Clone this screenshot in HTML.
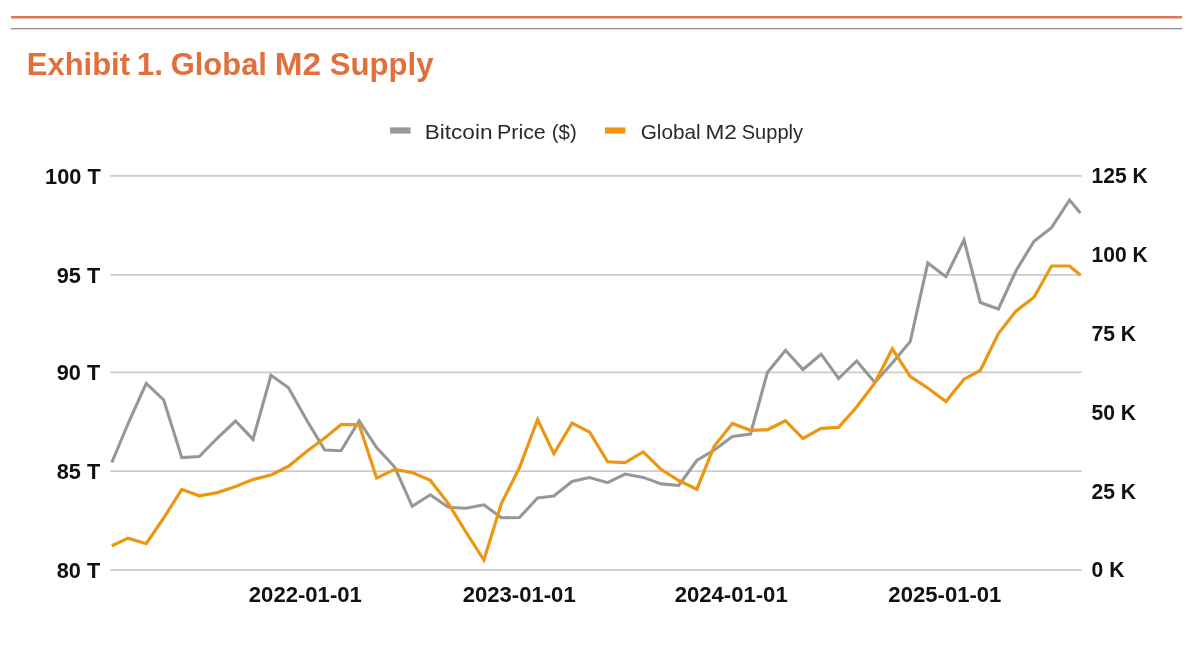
<!DOCTYPE html>
<html><head><meta charset="utf-8">
<style>
html,body{margin:0;padding:0;background:#ffffff;}
body{width:1200px;height:648px;overflow:hidden;position:relative;}
svg{position:absolute;left:0;top:0;will-change:transform;}
.ax{font-family:"Liberation Sans",sans-serif;font-weight:bold;font-size:20.5px;fill:#111111;}
.lg{font-family:"Liberation Sans",sans-serif;font-size:20.2px;fill:#2a2a2a;}
.tt{font-family:"Liberation Sans",sans-serif;font-weight:bold;font-size:31.5px;fill:#e0703c;}
</style></head>
<body>
<svg width="1200" height="648" viewBox="0 0 1200 648">
<line x1="11" y1="17.3" x2="1182" y2="17.3" stroke="#d9785a" stroke-width="2.6"/>
<line x1="11" y1="28.5" x2="1182" y2="28.5" stroke="#8a8a92" stroke-width="1.25"/>
<line x1="110.2" y1="175.9" x2="1081.7" y2="175.9" stroke="#cccccc" stroke-width="1.8"/>
<line x1="110.2" y1="274.9" x2="1081.7" y2="274.9" stroke="#cccccc" stroke-width="1.8"/>
<line x1="110.2" y1="372.4" x2="1081.7" y2="372.4" stroke="#cccccc" stroke-width="1.8"/>
<line x1="110.2" y1="471.2" x2="1081.7" y2="471.2" stroke="#cccccc" stroke-width="1.8"/>
<line x1="110.2" y1="569.9" x2="1081.7" y2="569.9" stroke="#cccccc" stroke-width="1.8"/>
<polyline points="111.8,462.5 128.1,423.5 146.2,383.3 163.7,400.0 181.8,457.6 199.3,456.6 217.4,438.0 235.5,421.0 253.0,439.4 271.0,375.2 288.5,387.8 306.6,420.0 324.7,450.0 341.0,450.7 359.1,421.0 376.6,447.5 394.7,467.0 412.2,506.3 430.3,494.8 448.4,507.2 465.9,508.3 483.9,504.8 501.4,517.8 519.5,517.5 537.6,498.0 553.9,496.0 572.0,481.5 589.5,477.6 607.6,482.7 625.1,474.1 643.2,477.4 661.3,483.9 678.8,485.5 696.8,460.5 714.3,450.0 732.4,436.4 750.5,434.0 767.4,372.4 785.5,350.3 803.0,369.5 821.1,354.2 838.6,378.5 856.7,361.0 874.8,382.5 892.3,363.0 910.3,341.4 927.8,263.0 945.9,276.7 964.0,240.0 980.3,302.5 998.4,309.0 1015.9,271.0 1034.0,241.2 1051.5,227.7 1069.6,200.0 1080.3,213.0" fill="none" stroke="#979797" stroke-width="3.1" stroke-linejoin="miter" stroke-miterlimit="4"/>
<polyline points="111.8,545.7 128.1,538.3 146.2,543.7 163.7,518.0 181.8,489.4 199.3,495.8 217.4,492.6 235.5,486.4 253.0,479.5 271.0,475.0 288.5,466.3 306.6,451.5 324.7,438.0 341.0,424.7 359.1,424.5 376.6,478.1 394.7,469.3 412.2,472.6 430.3,480.4 448.4,503.6 465.9,532.0 483.9,560.0 501.4,503.5 519.5,467.5 537.6,419.5 553.9,453.7 572.0,423.1 589.5,432.0 607.6,461.8 625.1,462.6 643.2,451.9 661.3,469.6 678.8,480.5 696.8,489.2 714.3,446.0 732.4,423.5 750.5,430.3 767.4,429.8 785.5,420.8 803.0,438.5 821.1,428.3 838.6,427.4 856.7,407.0 874.8,383.0 892.3,348.8 910.3,376.5 927.8,388.0 945.9,401.5 964.0,379.2 980.3,370.5 998.4,333.5 1015.9,311.2 1034.0,297.3 1051.5,266.0 1069.6,266.0 1080.3,275.0" fill="none" stroke="#ec9714" stroke-width="3.2" stroke-linejoin="miter" stroke-miterlimit="4"/>
<rect x="390" y="127.4" width="20.6" height="6.2" fill="#999999"/>
<rect x="605" y="127.4" width="20.4" height="6.2" fill="#f9920f"/>
<text transform="translate(45.08,183.50) scale(1.062,1.045)" class="ax">100 T</text>
<text transform="translate(56.76,282.50) scale(1.062,1.045)" class="ax">95 T</text>
<text transform="translate(56.76,380.00) scale(1.062,1.045)" class="ax">90 T</text>
<text transform="translate(56.76,478.80) scale(1.062,1.045)" class="ax">85 T</text>
<text transform="translate(56.76,577.50) scale(1.062,1.045)" class="ax">80 T</text>
<text transform="translate(1091.57,183.00) scale(1.028,1.04)" class="ax">125 K</text>
<text transform="translate(1091.57,261.90) scale(1.028,1.04)" class="ax">100 K</text>
<text transform="translate(1091.57,340.80) scale(1.028,1.04)" class="ax">75 K</text>
<text transform="translate(1091.57,419.60) scale(1.028,1.04)" class="ax">50 K</text>
<text transform="translate(1091.57,498.50) scale(1.028,1.04)" class="ax">25 K</text>
<text transform="translate(1091.57,577.40) scale(1.028,1.04)" class="ax">0 K</text>
<text transform="translate(248.82,602.00) scale(1.0786,1.057)" class="ax">2022-01-01</text>
<text transform="translate(462.67,602.00) scale(1.0786,1.057)" class="ax">2023-01-01</text>
<text transform="translate(674.67,602.00) scale(1.0786,1.057)" class="ax">2024-01-01</text>
<text transform="translate(888.37,602.00) scale(1.0786,1.057)" class="ax">2025-01-01</text>
<text transform="translate(424.76,138.70) scale(1.1175,0.98)" class="lg">Bitcoin</text>
<text transform="translate(496.98,138.70) scale(1.0605,0.98)" class="lg">Price</text>
<text transform="translate(551.69,138.70) scale(1.013,0.98)" class="lg">($)</text>
<text transform="translate(640.67,138.50) scale(1.0277,0.98)" class="lg">Global</text>
<text transform="translate(705.51,138.50) scale(1.12,0.98)" class="lg">M2</text>
<text transform="translate(741.71,138.50) scale(0.9934,0.98)" class="lg">Supply</text>
<text transform="translate(26.78,74.70) scale(0.983,0.9739)" class="tt">Exhibit</text>
<text transform="translate(136.70,74.70) scale(1.0,0.9739)" class="tt">1.</text>
<text transform="translate(170.72,74.70) scale(0.9821,0.9739)" class="tt">Global</text>
<text transform="translate(274.63,74.70) scale(1.0598,0.9739)" class="tt">M2</text>
<text transform="translate(329.71,74.70) scale(0.9885,0.9739)" class="tt">Supply</text>
</svg>
</body></html>
